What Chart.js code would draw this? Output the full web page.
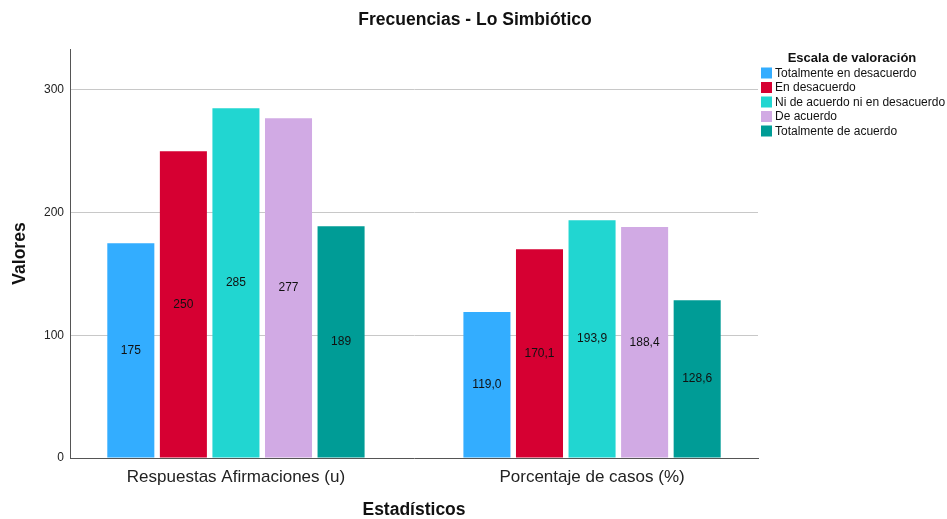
<!DOCTYPE html>
<html>
<head>
<meta charset="utf-8">
<script src="https://cdn.jsdelivr.net/npm/chart.js@4"></script>
<style>
html,body{margin:0;padding:0;background:#fff;}
#wrap{width:947px;height:519px;position:relative;}
</style>
</head>
<body>
<div id="wrap"><canvas id="c" width="947" height="519"></canvas></div>
<script>
const categories = ["Respuestas Afirmaciones (u)", "Porcentaje de casos (%)"];
const seriesNames = ["Totalmente en desacuerdo", "En desacuerdo", "Ni de acuerdo ni en desacuerdo", "De acuerdo", "Totalmente de acuerdo"];
const totalmenteDesacuerdo = [175, 119.0];
const enDesacuerdo = [250, 170.1];
const niDeAcuerdo = [285, 193.9];
const deAcuerdo = [277, 188.4];
const totalmenteAcuerdo = [189, 128.6];
const yTicks = [0, 100, 200, 300];
const colors = ["#33adff", "#d60032", "#21d6d1", "#d1aae4", "#009c96"];

const seriesValues = [totalmenteDesacuerdo, enDesacuerdo, niDeAcuerdo, deAcuerdo, totalmenteAcuerdo];
const FONT = "'Liberation Sans', Arial, sans-serif";
const chartTitle = "Frecuencias - Lo Simbiótico";
const legendTitle = "Escala de valoración";

function fmt(v, catIdx) {
  return catIdx === 0 ? String(Math.round(v)) : v.toFixed(1).replace('.', ',');
}

const labelPlugin = {
  id: 'barLabels',
  afterDatasetsDraw(chart) {
    const ctx = chart.ctx;
    ctx.save();
    ctx.font = "12px " + FONT;
    ctx.fillStyle = "#111";
    ctx.textAlign = "center";
    ctx.textBaseline = "middle";
    chart.data.datasets.forEach((ds, di) => {
      const meta = chart.getDatasetMeta(di);
      meta.data.forEach((el, i) => {
        const v = ds.data[i].y;
        ctx.fillText(fmt(v, i), el.x, (el.y + el.base) / 2);
      });
    });
    ctx.restore();
  }
};

const legendPlugin = {
  id: 'customLegend',
  afterDraw(chart) {
    const ctx = chart.ctx;
    ctx.save();
    ctx.textBaseline = "middle";
    ctx.textAlign = "center";
    ctx.fillStyle = "#111";
    ctx.font = "bold 17.5px " + FONT;
    ctx.fillText(chartTitle, 475, 20);
    ctx.font = "bold 13px " + FONT;
    ctx.fillText(legendTitle, 852, 58);
    ctx.font = "12px " + FONT;
    ctx.textAlign = "left";
    seriesNames.forEach((n, i) => {
      const cy = 73 + i * 14.5;
      ctx.fillStyle = colors[i];
      ctx.fillRect(761, cy - 5.5, 11, 11);
      ctx.fillStyle = "#111";
      ctx.fillText(n, 775, cy + 0.5);
    });
    ctx.restore();
  }
};

const datasets = seriesNames.map((name, si) => ({
  label: name,
  data: seriesValues[si].map((v, ci) => ({ x: ci, y: v })),
  backgroundColor: colors[si],
  borderWidth: 0,
  categoryPercentage: 0.738,
  barPercentage: 0.895
}));

new Chart(document.getElementById('c'), {
  type: 'bar',
  data: { datasets },
  plugins: [labelPlugin, legendPlugin],
  options: {
    responsive: false,
    animation: false,
    layout: { padding: { left: 0, right: 189, top: 49, bottom: 0 } },
    plugins: {
      legend: { display: false },
      tooltip: { enabled: false },
      title: { display: false }
    },
    scales: {
      x: {
        type: 'linear',
        offset: false,
        min: -0.466,
        max: 1.466,
        afterBuildTicks(scale) { scale.ticks = categories.map((c, i) => ({ value: i })); },
        afterFit(scale) { scale.height = 61; },
        grid: { display: false, drawTicks: false, offset: false },
        border: { display: true, color: "#555", width: 1 },
        ticks: {
          padding: 9,
          color: "#222",
          font: { family: FONT, size: 17, lineHeight: 1.2 },
          callback: (v) => categories[v] !== undefined ? categories[v] : ''
        },
        title: {
          display: true,
          text: "Estadísticos",
          color: "#111",
          font: { family: FONT, size: 17.5, weight: 'bold', lineHeight: 1 },
          padding: { top: 10, bottom: 0 }
        }
      },
      y: {
        min: 0,
        max: 333.4,
        afterBuildTicks(scale) { scale.ticks = yTicks.map(v => ({ value: v })); },
        afterFit(scale) { scale.width = 70; },
        grid: {
          drawTicks: false,
          color: (c) => (c.tick && c.tick.value === 0) ? 'rgba(0,0,0,0)' : '#c8c8c8',
          lineWidth: 1
        },
        border: { display: true, color: "#555", width: 1 },
        ticks: {
          padding: 6,
          color: "#222",
          font: { family: FONT, size: 12 }
        },
        title: {
          display: true,
          text: "Valores",
          color: "#111",
          font: { family: FONT, size: 17.5, weight: 'bold', lineHeight: 1 },
          padding: { top: 11.25, bottom: 0 }
        }
      }
    }
  }
});
</script>
</body>
</html>
